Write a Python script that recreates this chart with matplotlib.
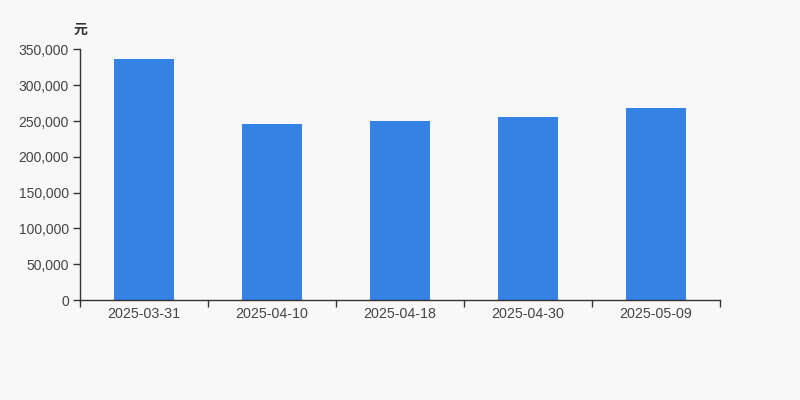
import matplotlib.pyplot as plt
from matplotlib.ticker import FuncFormatter, FixedLocator

dates = ["2025-03-31", "2025-04-10", "2025-04-18", "2025-04-30", "2025-05-09"]
amounts = [336300, 245900, 249700, 255700, 267800]
y_ticks = [0, 50000, 100000, 150000, 200000, 250000, 300000, 350000]

plt.rcParams['font.family'] = ['Liberation Sans', 'Noto Sans CJK SC', 'DejaVu Sans']

bg = "#f8f8f8"
text_color = "#333333"
label_color = "#444444"
fig = plt.figure(figsize=(8, 4), dpi=100, facecolor=bg)
ax = fig.add_axes([0.1, 0.25, 0.8, 0.62625])
ax.set_facecolor(bg)

x = list(range(len(dates)))
ax.bar(x, amounts, width=0.47, color="#3482e3")

ax.set_xlim(-0.5, len(dates) - 0.5)
ax.set_ylim(0, 350000)
ax.set_yticks(y_ticks)
ax.yaxis.set_major_formatter(FuncFormatter(lambda v, p: f"{int(v):,}"))

# category boundaries get tick marks, labels sit in the middle
ax.xaxis.set_major_locator(FixedLocator([i - 0.5 for i in range(len(dates) + 1)]))
ax.xaxis.set_minor_locator(FixedLocator(x))
ax.set_xticklabels([])
ax.set_xticklabels(dates, minor=True)
ax.tick_params(axis="x", which="major", length=5, color=text_color, width=1)
ax.tick_params(axis="x", which="minor", length=0, pad=5, labelsize=10.3, labelcolor=label_color)
ax.tick_params(axis="y", length=5, color=text_color, width=1, labelsize=10, labelcolor=label_color, pad=3)

for side in ["top", "right"]:
    ax.spines[side].set_visible(False)
for side in ["left", "bottom"]:
    ax.spines[side].set_color(text_color)
    ax.spines[side].set_linewidth(1)

fig.text(0.1, 0.925, "元", ha="center", va="center", fontsize=10,
         fontweight="bold", color=text_color,
         family=['Noto Sans CJK SC', 'DejaVu Sans'])

fig.savefig("out.png", dpi=100, facecolor=bg)
